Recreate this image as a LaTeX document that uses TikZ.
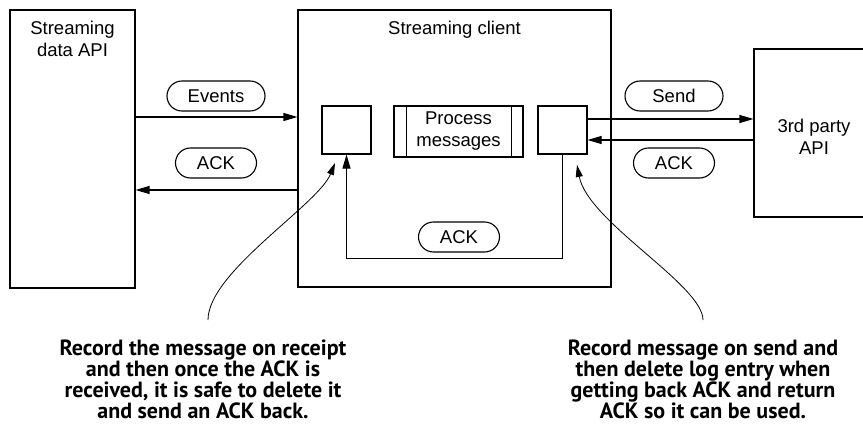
\documentclass[tikz,border=0pt]{standalone}
\usepackage{fontspec}
\setmainfont{Liberation Sans}
\newfontfamily\notefont{PT Sans}
\usetikzlibrary{arrows.meta,shapes.misc,positioning}

\begin{document}
\begin{tikzpicture}[
        x=1pt, y=-1pt,
        line width=1.1pt,
        font=\fontsize{18.5}{22}\selectfont,
        box/.style={draw, rectangle, inner sep=0pt},
        pill/.style={draw, rounded rectangle, minimum height=30pt, inner sep=0pt},
        arrow/.style={-{Triangle[length=14pt,width=8pt]}},
        callout/.style={line width=0.8pt, -{Triangle[length=12pt,width=7pt]}},
        note/.style={align=center, font=\notefont\bfseries\fontsize{22}{21}\selectfont}
      ]
        \useasboundingbox (0,0) rectangle (863,428);
        % outer boxes
        \node (api)    [box, minimum width=125pt, minimum height=278pt] at (72.5,149) {};
        \node (client) [box, minimum width=313pt, minimum height=277pt] at (454.5,148.5) {};
        \node (third)  [box, minimum width=140pt, minimum height=168pt] at (824,133) {};
        \node (apilbl)    [align=center, below=8pt of api.north] {Streaming\\ data API};
        \node (clientlbl) [below=8pt of client.north] {Streaming client};
        \node (thirdlbl)  [align=center] at (814,137) {3rd party\\ API};
        % inner boxes
        \node (inbox)  [box, minimum width=49pt, minimum height=48pt] at (346.5,130) {};
        \node (proc)   [box, align=center, minimum width=129pt, minimum height=51pt] at (458.5,131.5) {Process\\ messages};
        \node (outbox) [box, minimum width=49pt, minimum height=48pt] at (562.5,130) {};
        \draw ([xshift=13pt]proc.north west) -- ([xshift=13pt]proc.south west);
        \draw ([xshift=-12pt]proc.north east) -- ([xshift=-12pt]proc.south east);
        % labels on the connectors
        \node (events) [pill, minimum width=98pt] at (216,96)  {Events};
        \node (ackin)  [pill, minimum width=81pt] at (216,163) {ACK};
        \node (send)   [pill, minimum width=98pt] at (674,96)  {Send};
        \node (ackout) [pill, minimum width=81pt] at (674,163) {ACK};
        \node (ackloop)[pill, minimum width=81pt] at (459,237) {ACK};
        \draw[arrow] ([yshift=32pt]api.east) -- ([yshift=31.5pt]client.west);
        \draw[arrow] ([yshift=-41.5pt]client.west) -- ([yshift=-41pt]api.east);
        \draw[arrow] ([yshift=11pt]outbox.east) -- ([yshift=14pt]third.west);
        \draw[arrow] ([yshift=-7pt]third.west) -- ([yshift=-10pt]outbox.east);
        \draw[arrow] (outbox.south) -- ++(0,104) -| (inbox.south);
        % notes
        \node (noteleft)  [note] at (203,379) {Record the message on receipt\\ and then once the ACK is\\ received, it is safe to delete it\\ and send an ACK back.};
        \node (noteright) [note] at (703,379) {Record message on send and\\ then delete log entry when\\ getting back ACK and return\\ ACK so it can be used.};
        \coordinate (srcleft)  at (208,320);
        \coordinate (srcright) at (703,320);
        \coordinate (tipleft)  at (335,163);
        \coordinate (tipright) at (577,165);
        \draw[callout] (srcleft) .. controls (208,272) and (318,205) .. (tipleft);
        \draw[callout] (srcright) .. controls (703,285) and (588,222) .. (tipright);
      \end{tikzpicture}
\end{document}
